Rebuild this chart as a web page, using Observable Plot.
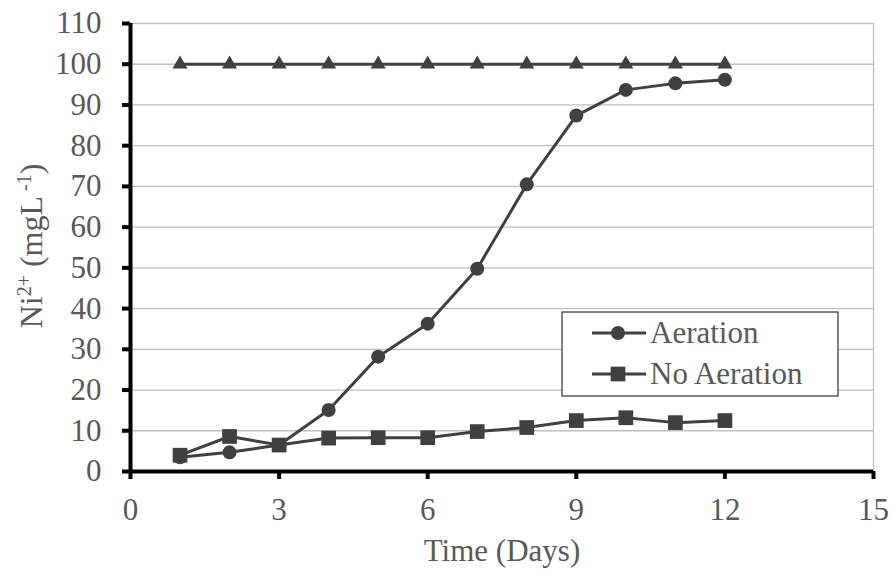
<!DOCTYPE html>
<html><head><meta charset="utf-8">
<script src="https://cdn.jsdelivr.net/npm/d3@7"></script>
<script src="https://cdn.jsdelivr.net/npm/@observablehq/plot@0.6"></script>
<style>body{margin:0;background:#fff}</style>
</head><body><div id="chart"></div>
<script>
const days = [1,2,3,4,5,6,7,8,9,10,11,12];
const control = [100,100,100,100,100,100,100,100,100,100,100,100];
const aeration = [3.5,4.7,6.5,15.1,28.2,36.3,49.8,70.5,87.4,93.7,95.3,96.2];
const noAeration = [4.0,8.6,6.5,8.2,8.3,8.3,9.8,10.8,12.5,13.2,12.0,12.5];
const xTicks = [0,3,6,9,12,15];
const yTicks = [0,10,20,30,40,50,60,70,80,90,100,110];
const seriesNames = ["Aeration","No Aeration"];

const ink = "#404040";
const textColor = "#595959";
const font = "Liberation Serif";

const rowsC = days.map((d,i)=>({day:d, v:control[i]}));
const rowsA = days.map((d,i)=>({day:d, v:aeration[i]}));
const rowsN = days.map((d,i)=>({day:d, v:noAeration[i]}));

const chart = Plot.plot({
  width: 894, height: 576,
  marginLeft: 130, marginRight: 21, marginTop: 23, marginBottom: 105,
  style: {fontFamily: font, fontSize: "31px", color: textColor, background: "#fff"},
  x: {domain: [0,15]},
  y: {domain: [0,110]},
  marks: [
    Plot.ruleY(yTicks.filter(d=>d>0), {stroke:"#c0c0c0", strokeWidth:1.3}),
    Plot.ruleX([15], {stroke:"#c0c0c0", strokeWidth:1.3}),
    Plot.axisY({ticks: yTicks, tickSize: 8, tickPadding: 21, stroke: "#000", strokeWidth: 4, fill: textColor, fontSize: 31, label: null}),
    Plot.axisX({ticks: xTicks, tickSize: 8, tickPadding: 18, stroke: "#000", strokeWidth: 4, fill: textColor, fontSize: 31, label: null}),
    Plot.ruleY([0], {stroke:"#000", strokeWidth:4}),
    Plot.ruleX([0], {stroke:"#000", strokeWidth:4}),
    Plot.line(rowsC, {x:"day", y:"v", stroke: ink, strokeWidth: 3}),
    Plot.line(rowsN, {x:"day", y:"v", stroke: ink, strokeWidth: 3}),
    Plot.line(rowsA, {x:"day", y:"v", stroke: ink, strokeWidth: 3}),
    Plot.dot(rowsC, {x:"day", y:"v", symbol:"triangle", r:5.6, fill: ink, stroke: "none"}),
    Plot.dot(rowsN, {x:"day", y:"v", symbol:"square", r:8.3, fill: ink, stroke: "none"}),
    Plot.dot(rowsA, {x:"day", y:"v", symbol:"circle", r:7, fill: ink, stroke: "none"})
  ]
});
document.getElementById("chart").appendChild(chart);

const svg = d3.select(chart);
// x title
svg.append("text").attr("x", 502).attr("y", 561).attr("text-anchor","middle")
  .attr("font-family", font).attr("font-size", 31).attr("fill", textColor).text("Time (Days)");
// y title
const yt = svg.append("text").attr("transform","translate(42,246) rotate(-90)").attr("text-anchor","middle")
  .attr("font-family", font).attr("font-size", 32).attr("fill", textColor);
yt.append("tspan").text("Ni");
yt.append("tspan").attr("font-size", 20).attr("dy", -11).text("2+");
yt.append("tspan").attr("dy", 11).text(" (mgL");
yt.append("tspan").attr("font-size", 20).attr("dy", -11).text(" -1");
yt.append("tspan").attr("dy", 11).text(")");

// legend
const lg = svg.append("g").attr("text-anchor","start");
lg.append("rect").attr("x",562).attr("y",312).attr("width",276).attr("height",84)
  .attr("fill","#fff").attr("stroke", ink).attr("stroke-width",1.3);
const sym = [d3.symbolCircle, d3.symbolSquare];
const sizes = [Math.PI*49, Math.PI*8.3*8.3];
seriesNames.forEach((name,i)=>{
  const cy = i===0 ? 333 : 374;
  lg.append("line").attr("x1",592).attr("x2",646).attr("y1",cy).attr("y2",cy)
    .attr("stroke", ink).attr("stroke-width",3);
  lg.append("path").attr("d", d3.symbol(sym[i], sizes[i])()).attr("transform",`translate(618,${cy})`).attr("fill", ink);
  lg.append("text").attr("x",650).attr("y", cy+10).attr("text-anchor","start").attr("font-family", font).attr("font-size",31)
    .attr("fill", textColor).text(name);
});
</script>
</body></html>
